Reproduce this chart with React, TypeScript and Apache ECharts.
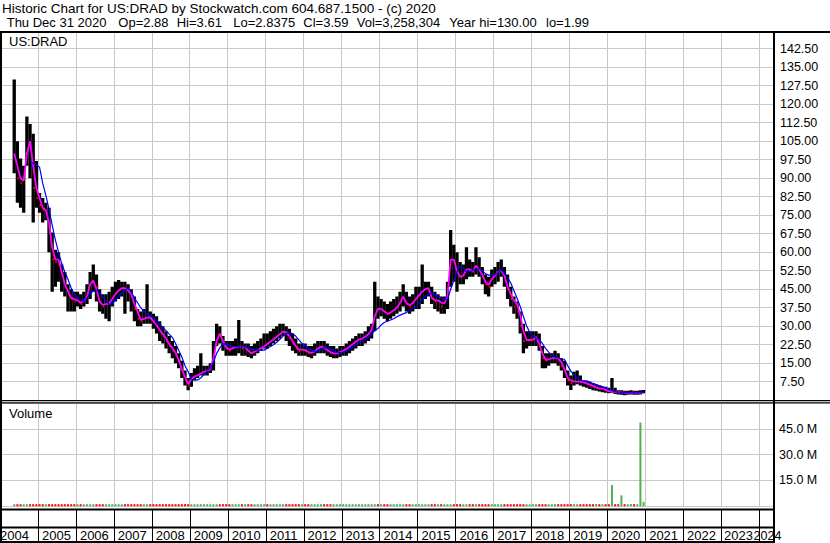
import React, { useEffect, useRef } from 'react';
import * as echarts from 'echarts';

// Monthly bars, first month = May 2004, last = Dec 2020
const FIRST_YEAR = 2004;
const FIRST_MONTH = 4; // 0-based (May)

const highs = [
  130, 105, 98, 95, 115, 112, 108, 97,
  84, 82, 80, 78, 68, 61, 60, 55, 52, 47, 45, 44,
  44, 43, 44, 47, 52, 55, 51, 45, 43, 43, 44, 46,
  48, 48.7, 48, 48, 47, 45, 42, 37, 36, 37, 47, 36,
  35, 34, 32, 30, 28, 26, 24, 22, 19, 16, 12, 9,
  11, 13, 14, 19, 14, 14, 15, 24, 31, 30, 26, 24,
  24, 24, 25, 32.5, 24, 23, 23, 22, 23, 24, 25, 27,
  27, 28, 29, 30, 31, 31, 30, 29, 27, 25, 23, 23,
  23, 22, 22, 23, 24, 24, 24, 23, 22, 22, 21, 22,
  22, 23, 24, 25, 26, 27, 27, 28, 30, 31, 48, 42,
  41, 40, 39, 40, 41, 42, 44, 47, 44, 42, 43, 46,
  46, 55, 48, 48, 46, 44, 43, 42, 42, 48, 69, 63,
  60, 56, 55, 62, 57, 56, 62, 58, 54, 51, 50, 53,
  54, 56, 57, 54, 51, 46, 42, 40, 36, 31, 28, 28,
  28, 28, 27, 22, 19, 19, 19, 20, 19, 17, 16, 12,
  10, 11.5, 12, 10, 8, 8, 7.5, 7, 6.5, 6, 5.5, 5.5,
  5, 9, 5, 4, 4, 3.8, 3.8, 4, 3.8, 3.8, 4, 4.1,
];

const lows = [
  92, 80, 78, 76, 95, 90, 72, 78,
  76, 72, 73, 60, 44, 46, 48, 44, 42, 36, 36, 36,
  38, 37, 38, 39, 41, 44, 40, 36, 35, 33, 32, 38,
  40, 41, 42, 35, 40, 36, 32, 30, 30, 31, 31, 31,
  29, 27, 24, 23, 21, 19, 17, 15, 13, 9, 6, 4,
  5.5, 8, 9, 10, 10, 10, 11, 12, 22, 23, 20, 18,
  18, 18, 18, 19, 18, 18, 17.5, 17, 18, 19, 20, 21,
  21, 22, 23, 24, 25, 26, 24, 22, 20, 19, 18, 18,
  18, 17.5, 17, 18, 19, 19, 19, 18, 17.5, 17, 17, 17.5,
  18, 18, 19, 20, 21, 22, 22, 23, 24, 25, 28, 33,
  34, 33, 32, 33, 34, 35, 36, 38, 36, 35, 36, 37,
  37, 39, 41, 42, 39, 37, 36, 35, 35, 37, 46, 48,
  44, 47, 47, 49, 50, 50, 51, 50, 47, 43, 42, 46,
  47, 48, 50, 46, 41, 38, 35, 33, 27, 19, 21, 22,
  22, 22, 20, 13, 13, 14, 15, 15, 14, 12, 9, 6,
  4.1, 6, 6.5, 6, 5.5, 5, 4.5, 4, 3.8, 3.5, 3.2, 3,
  2.8, 3, 2.5, 2.3, 2.2, 1.99, 2.2, 2.3, 2.2, 2.2, 2.3, 2.8,
];

const closes = [
  100, 90, 88, 90, 108, 102, 86, 82,
  79, 77, 77, 68, 57, 56, 55, 51, 46, 43, 41, 40,
  40, 39, 40, 43, 48, 49, 46, 40, 38, 39, 40, 43,
  44, 45, 46, 45, 44, 42, 37, 33, 32, 33, 34, 33,
  32, 30, 28, 26, 24, 22, 20, 18, 16, 12, 8, 6,
  9, 10, 11, 12, 12, 12, 13, 20, 27, 26, 23, 21,
  20, 21, 22, 22, 21, 21, 20, 19, 20, 21, 22, 24,
  23, 24, 26, 27, 28, 28, 27, 25, 23, 21, 20, 21,
  20, 19, 19, 20, 21, 22, 21, 20, 19, 19, 19, 20,
  20, 21, 22, 23, 24, 25, 25, 26, 27, 29, 38, 37,
  37, 36, 35, 36, 37, 38, 40, 42, 39, 38, 40, 42,
  42, 45, 45, 46, 41, 40, 40, 38, 39, 44, 60, 56,
  52, 50, 51, 54, 53, 52, 55, 53, 50, 47, 46, 50,
  50, 52, 53, 50, 45, 41, 38, 36, 30, 24, 24, 25,
  25, 25, 22, 17, 16, 17, 17, 18, 16, 14, 12, 8,
  7, 8, 8, 7.5, 7, 6.5, 6, 5.5, 5.6, 4.5, 4.5, 4,
  3.5, 4, 3.2, 3, 3.1, 2.8, 3, 3.1, 3, 3.1, 3.2, 3.59,
];

const maFast = [
  100, 95, 90, 89, 100, 105, 95, 86,
  82, 78, 77, 72, 62, 57, 57, 52, 47, 44, 41.5, 41,
  40.5, 39.5, 40, 42, 47, 48.5, 45, 40, 38.6, 39, 39.3, 41,
  43, 44.5, 45.4, 45.4, 44.5, 43, 39, 36, 32.5, 33, 33.5, 33.6,
  32, 30.5, 28.5, 26.8, 25, 22.8, 21.2, 19.2, 16.3, 12.5, 9.5, 6.5,
  8.5, 9.6, 10.1, 10.8, 11.5, 12, 12.5, 17, 24, 27, 24, 21.5,
  20.5, 21, 21.5, 21.7, 21.7, 21.5, 20, 19, 19.7, 20.3, 21, 21.7,
  22.8, 23.7, 24.7, 25.7, 26.8, 27.8, 27.5, 26, 24, 22, 20.5, 20.5,
  20.3, 19.5, 19.2, 19.8, 21, 21.7, 21.3, 20.3, 19.5, 19, 19, 19.5,
  20, 20.7, 21.7, 22.7, 23.7, 24.6, 25, 25.7, 26.8, 28.5, 34, 37,
  37, 36, 35, 35.5, 36.5, 37.5, 39.5, 42, 39.5, 38.5, 39.3, 41,
  42.5, 44, 45, 45.4, 41.5, 40.6, 40.4, 39.6, 39.3, 42, 57, 57,
  52.5, 50, 50.5, 53, 53, 52.3, 54.5, 53, 51, 48, 46.8, 49,
  50.5, 52, 52.5, 50.5, 46, 43, 40.5, 39, 34.5, 28, 24.4, 24.4,
  24.5, 25.7, 23, 19, 16.5, 16.5, 17, 17.3, 17, 15.5, 12.5, 9,
  8, 7.6, 7.5, 7.5, 7.3, 6.8, 6.3, 5.8, 5.2, 4.8, 4.7, 4.2,
  3.7, 3.6, 3.4, 3.3, 3.2, 3.1, 3, 3, 3, 3, 3, 3.1,
];

const maSlow = [
  null, null, null, null, null, 96.7, 96, 95.5,
  94.5, 88, 83, 77.5, 71, 65, 60, 55.5, 52, 49, 45.5, 43,
  41.8, 40.8, 40, 41.5, 43.3, 44.2, 44.7, 43.5, 42, 40.2, 38.8, 39.3,
  40.5, 42, 43.5, 44.7, 45.2, 44, 41.5, 39.5, 37.5, 36, 35, 34.3,
  33.5, 32, 30.8, 29.5, 28.2, 26.8, 25.5, 23, 20.3, 17.5, 14, 11.5,
  8.5, 8.2, 8.2, 9, 10.5, 12, 13, 15.5, 19, 21.2, 22.8, 22.7,
  22.2, 21.8, 21.7, 21.7, 21.7, 21.6, 21.2, 20.7, 20.3, 20.3, 20.3, 20.3,
  21, 21.8, 22.5, 23.5, 24.7, 26, 27, 27.3, 27, 26, 24.5, 23,
  22, 21, 20.2, 19.8, 20, 20.7, 21.2, 21.2, 20.7, 20, 19.5, 19.3,
  19.5, 20, 20.7, 21.5, 22.3, 23.2, 24, 24.7, 25.5, 26.5, 28.5, 29,
  30.5, 31.5, 32, 32.5, 33, 33.8, 34.5, 35, 35.5, 36.5, 37.3, 38,
  39.5, 41, 42, 43, 43.3, 42.7, 42, 41.5, 41, 40.8, 45, 48.5,
  52, 54.2, 53.5, 52.1, 52.1, 52.5, 53.5, 53.2, 52.5, 51.3, 50.7, 50.7,
  50.8, 51.8, 52.8, 51.3, 49.8, 47.5, 44.5, 41.3, 38, 34, 30.2, 27.5,
  26, 25.2, 24.6, 23, 21, 19.5, 18.2, 17.4, 17.1, 16.8, 16.5, 14,
  11.8, 10.3, 9, 8.1, 7.8, 7.6, 7.4, 6.8, 6.3, 5.9, 5.5, 5,
  4.5, 3.9, 3.5, 3.3, 3.2, 3.1, 3.05, 3, 3, 3, 3.1, 3.3,
];

// volume in millions of shares
const volumes = [
  0.6, 0.5, 0.4, 0.4, 0.5, 0.4, 0.4, 0.3,
  0.3, 0.3, 0.3, 0.4, 0.5, 0.3, 0.3, 0.3, 0.3, 0.4, 0.3, 0.3,
  0.3, 0.2, 0.3, 0.3, 0.4, 0.4, 0.3, 0.3, 0.2, 0.3, 0.3, 0.3,
  0.3, 0.3, 0.2, 0.3, 0.2, 0.3, 0.3, 0.3, 0.2, 0.2, 0.4, 0.2,
  0.2, 0.2, 0.2, 0.3, 0.2, 0.2, 0.2, 0.3, 0.3, 0.4, 0.4, 0.3,
  0.3, 0.2, 0.3, 0.4, 0.2, 0.2, 0.2, 0.5, 0.6, 0.4, 0.3, 0.3,
  0.2, 0.2, 0.3, 0.8, 0.3, 0.2, 0.2, 0.2, 0.2, 0.2, 0.2, 0.3,
  0.3, 0.3, 0.3, 0.2, 0.3, 0.3, 0.2, 0.3, 0.3, 0.2, 0.2, 0.2,
  0.2, 0.2, 0.2, 0.2, 0.2, 0.2, 0.2, 0.2, 0.2, 0.2, 0.2, 0.2,
  0.2, 0.2, 0.2, 0.2, 0.2, 0.2, 0.2, 0.2, 0.3, 0.3, 0.6, 0.4,
  0.3, 0.3, 0.2, 0.2, 0.3, 0.3, 0.3, 0.4, 0.3, 0.3, 0.3, 0.3,
  0.3, 0.4, 0.3, 0.3, 0.2, 0.2, 0.2, 0.2, 0.2, 0.3, 0.6, 0.4,
  0.4, 0.3, 0.3, 0.3, 0.2, 0.2, 0.3, 0.2, 0.2, 0.2, 0.2, 0.2,
  0.2, 0.2, 0.2, 0.2, 0.3, 0.3, 0.3, 0.3, 0.4, 0.5, 0.3, 0.3,
  0.2, 0.2, 0.3, 0.4, 0.3, 0.2, 0.2, 0.2, 0.2, 0.3, 0.3, 0.4,
  0.4, 0.4, 0.3, 0.3, 0.3, 0.3, 0.3, 0.3, 1.3, 0.4, 0.3, 0.3,
  0.4, 12.3, 0.8, 0.6, 6.3, 1.2, 0.5, 1.3, 0.6, 0.7, 48.6, 2.5,
];

const yearLabels = ['2004', '2005', '2006', '2007', '2008', '2009', '2010', '2011', '2012', '2013', '2014',
  '2015', '2016', '2017', '2018', '2019', '2020', '2021', '2022', '2023', '2024'];

const headerLine1 = 'Historic Chart for US:DRAD by Stockwatch.com 604.687.1500 - (c) 2020';
const headerLine2 = ['Thu Dec 31 2020', 'Op=2.88', 'Hi=3.61', 'Lo=2.8375', 'Cl=3.59', 'Vol=3,258,304', 'Year hi=130.00', 'lo=1.99'];
const headerLine2X = [6.7, 118.3, 176.7, 233.3, 303.3, 356.7, 449.3, 546];

const FONT = '"Liberation Sans", Arial, Helvetica, sans-serif';
const GRID_COLOR = '#c8c8c8';

function monthTime(i: number) {
  return FIRST_YEAR + (FIRST_MONTH + i + 0.5) / 12;
}

export default function App() {
  const ref = useRef<HTMLDivElement>(null);

  useEffect(() => {
    document.body.style.margin = '0';
    const chart = echarts.init(ref.current!, null, { renderer: 'svg' });

    const ohlc = highs.map((h, i) => [monthTime(i), h, lows[i], closes[i], i > 0 ? closes[i - 1] : closes[i]]);
    const fast = maFast.map((v, i) => [monthTime(i), v]);
    const slow = maSlow.map((v, i) => [monthTime(i), v]);
    const vol = volumes.map((v, i) => ({
      value: [monthTime(i), v * 1e6],
      itemStyle: { color: i > 0 && closes[i] < closes[i - 1] ? '#ff0000' : '#50b050' },
    }));

    const xAxisBase = {
      type: 'value',
      min: 2004,
      max: 2024.369,
      interval: 1,
      axisLine: { show: false },
      axisTick: { show: false },
      axisLabel: { show: false },
      splitLine: { show: true, lineStyle: { color: GRID_COLOR, width: 1 } },
    };

    const option: any = {
      animation: false,
      backgroundColor: '#ffffff',
      grid: [
        { left: -11.2, right: 57, top: 32.5, bottom: 142.8 },
        { left: -11.2, right: 57, top: 403, bottom: 36.8 },
      ],
      xAxis: [
        { ...xAxisBase, gridIndex: 0 },
        { ...xAxisBase, gridIndex: 1 },
      ],
      yAxis: [
        {
          gridIndex: 0,
          type: 'value',
          position: 'right',
          min: 0,
          max: 149.07,
          interval: 7.5,
          axisLine: { show: false },
          axisTick: { show: false },
          splitLine: { show: true, lineStyle: { color: GRID_COLOR, width: 1 } },
          axisLabel: {
            margin: 7,
            color: '#000',
            fontSize: 12.5,
            fontFamily: FONT,
            formatter: (v: number) => (v > 0 && v < 145 && Math.abs(v / 7.5 - Math.round(v / 7.5)) < 1e-6 ? v.toFixed(2) : ''),
          },
        },
        {
          gridIndex: 1,
          type: 'value',
          position: 'right',
          min: 0,
          max: 60e6,
          interval: 15e6,
          axisLine: { show: false },
          axisTick: { show: false },
          splitLine: { show: true, lineStyle: { color: GRID_COLOR, width: 1 } },
          axisLabel: {
            margin: 6,
            color: '#000',
            fontSize: 12.5,
            fontFamily: FONT,
            formatter: (v: number) => (v > 0 && v < 59e6 ? (v / 1e6).toFixed(1) + ' M' : ''),
          },
        },
      ],
      series: [
        {
          type: 'custom',
          xAxisIndex: 0,
          yAxisIndex: 0,
          clip: true,
          data: ohlc,
          encode: { x: 0, y: [1, 2, 3] },
          renderItem: (params: any, api: any) => {
            const t = api.value(0);
            const h = api.value(1);
            const l = api.value(2);
            const c = api.value(3);
            const o = api.value(4);
            const top = api.coord([t, h]);
            const bot = api.coord([t, l]);
            const cl = api.coord([t, c]);
            const children: any[] = [
              {
                type: 'rect',
                shape: { x: top[0] - 1.65, y: top[1], width: 3.3, height: Math.max(1, bot[1] - top[1]) },
                style: { fill: '#000' },
              },
            ];
            if (c < o) {
              children.push({
                type: 'rect',
                shape: { x: cl[0], y: cl[1] - 1, width: 2, height: 2 },
                style: { fill: '#ff0000' },
              });
            }
            return { type: 'group', children };
          },
        },
        {
          type: 'line',
          xAxisIndex: 0,
          yAxisIndex: 0,
          data: fast,
          showSymbol: false,
          connectNulls: false,
          lineStyle: { color: '#ff00ff', width: 1.8 },
          z: 3,
        },
        {
          type: 'line',
          xAxisIndex: 0,
          yAxisIndex: 0,
          data: slow,
          showSymbol: false,
          connectNulls: false,
          lineStyle: { color: '#0000ff', width: 1.2 },
          z: 4,
        },
        {
          type: 'bar',
          xAxisIndex: 1,
          yAxisIndex: 1,
          data: vol,
          barWidth: 2,
          barMinHeight: 2,
        },
      ],
    };

    chart.setOption(option);

    const yearPx = yearLabels.map((y) => chart.convertToPixel({ xAxisIndex: 0 }, Number(y)) as number);

    const black = '#000';
    const g: any[] = [];
    // header
    g.push({
      type: 'text', x: 2, y: 8.5, z: 100,
      style: { text: headerLine1, fill: black, fontSize: 13.5, fontFamily: FONT, verticalAlign: 'middle', align: 'left' },
    });
    headerLine2.forEach((s, i) => {
      g.push({
        type: 'text', x: headerLine2X[i], y: 22.5, z: 100,
        style: { text: s, fill: black, fontSize: 13, fontFamily: FONT, verticalAlign: 'middle', align: 'left' },
      });
    });
    // panel titles
    g.push({ type: 'text', x: 9, y: 41, z: 100, style: { text: 'US:DRAD', fill: black, fontSize: 13, fontFamily: FONT, verticalAlign: 'middle' } });
    g.push({ type: 'text', x: 9, y: 413, z: 100, style: { text: 'Volume', fill: black, fontSize: 13, fontFamily: FONT, verticalAlign: 'middle' } });

    // year separators and labels
    const last = yearLabels.length - 1;
    yearPx.forEach((px, i) => {
      if (px > 2 && px < 773) {
        g.push({ type: 'line', z: 100, shape: { x1: Math.round(px) + 0.5, y1: 510, x2: Math.round(px) + 0.5, y2: 542 }, style: { stroke: black, lineWidth: 1 } });
      }
      let lx = px + 4;
      let fs = 13;
      if (i === 0) lx = 0;
      if (i === last - 1) lx = px + 3;
      if (i === last) { lx = yearPx[last - 1] + 32.5; fs = 12.5; }
      g.push({
        type: 'text', x: lx, y: 535.5, z: 99,
        style: { text: yearLabels[i], fill: black, fontSize: fs, fontFamily: FONT, verticalAlign: 'middle', align: 'left' },
      });
    });

    // frame
    const rects = [
      [0, 31, 830, 2],       // header rule
      [0, 31, 2, 512],       // left border
      [773, 31, 2, 512],     // right panel border
      [0, 400, 830, 1.3],    // price panel bottom
      [0, 402.3, 830, 1.3],  // volume panel top
      [0, 508.5, 775, 2],    // volume panel bottom
      [0, 526.5, 775, 2],    // label row top
      [0, 541, 775, 2],      // bottom
    ];
    rects.forEach(([x, y, w, h]) => {
      g.push({ type: 'rect', z: 101, shape: { x, y, width: w, height: h }, style: { fill: black } });
    });

    chart.setOption({ graphic: { elements: g } });

    return () => chart.dispose();
  }, []);

  return <div ref={ref} style={{ position: 'absolute', left: 0, top: 0, width: 830, height: 543, background: '#fff' }} />;
}
